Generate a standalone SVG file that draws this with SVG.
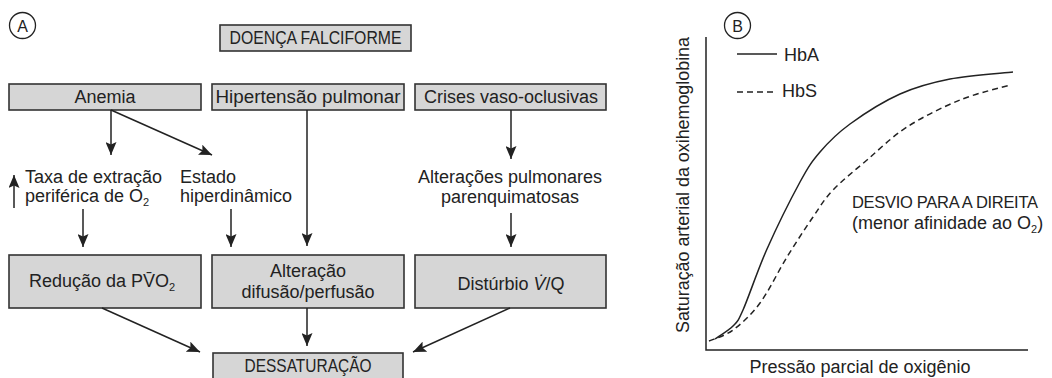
<svg xmlns="http://www.w3.org/2000/svg" width="1052" height="378" viewBox="0 0 1052 378">
<style>
.box{fill:#d6d6d6;stroke:#333;stroke-width:1.6}
.t{font-family:"Liberation Sans",Arial,sans-serif;font-size:18px;fill:#222}
.m{text-anchor:middle}
.sub{font-size:11px}
.conn{stroke:#222;stroke-width:1.5;fill:none;marker-end:url(#ah)}
.circ{fill:none;stroke:#222;stroke-width:1.3}
.axis{stroke:#222;stroke-width:1.5;fill:none}
.curve{stroke:#222;stroke-width:1.5;fill:none}
.dash{stroke-dasharray:6 4}
</style>
<defs>
<marker id="ah" markerUnits="userSpaceOnUse" markerWidth="13" markerHeight="11" refX="13" refY="5.5" orient="auto">
<path d="M0,0 L13,5.5 L0,11 L2.5,5.5 z" fill="#222"/>
</marker>
</defs>
<rect width="1052" height="378" fill="#fff"/>

<g id="labelA">
<circle class="circ" cx="22.5" cy="25.5" r="13"/>
<text class="t m" x="22.5" y="31.5" style="font-size:16px">A</text>
</g>

<g id="doenca">
<rect class="box" x="220" y="25" width="191" height="26"/>
<text class="t m" x="315.5" y="44" textLength="172" lengthAdjust="spacingAndGlyphs">DOENÇA FALCIFORME</text>
</g>

<g id="anemia">
<rect class="box" x="9" y="84" width="192" height="26"/>
<text class="t m" x="105" y="103">Anemia</text>
</g>

<g id="hipertensao">
<rect class="box" x="212" y="84" width="192" height="26"/>
<text class="t m" x="308" y="103" textLength="185" lengthAdjust="spacingAndGlyphs">Hipertensão pulmonar</text>
</g>

<g id="crises">
<rect class="box" x="415" y="84" width="191" height="26"/>
<text class="t m" x="511" y="103">Crises vaso-oclusivas</text>
</g>

<g id="taxa">
<text class="t" x="25" y="183">Taxa de extração</text>
<text class="t" x="25" y="202">periférica de O<tspan class="sub" dy="4">2</tspan></text>
</g>

<g id="estado">
<text class="t" x="180" y="183">Estado</text>
<text class="t" x="180" y="202">hiperdinâmico</text>
</g>

<g id="alteracoes">
<text class="t m" x="510" y="183">Alterações pulmonares</text>
<text class="t m" x="510" y="203">parenquimatosas</text>
</g>

<g id="reducao">
<rect class="box" x="9" y="255" width="192" height="53"/>
<text class="t" x="29" y="287">Redução da PV̄O<tspan class="sub" dy="4">2</tspan></text>
</g>

<g id="alteracao">
<rect class="box" x="212" y="255" width="192" height="53"/>
<text class="t m" x="308" y="277">Alteração</text>
<text class="t m" x="308" y="298">difusão/perfusão</text>
</g>

<g id="disturbio">
<rect class="box" x="415" y="255" width="191" height="53"/>
<text class="t m" x="511" y="290">Distúrbio <tspan font-style="italic">V̇</tspan>/Q</text>
</g>

<g id="dessaturacao">
<rect class="box" x="213" y="353" width="190" height="32"/>
<text class="t m" x="308" y="372" textLength="127" lengthAdjust="spacingAndGlyphs">DESSATURAÇÃO</text>
</g>

<g id="connectors">
<line class="conn" x1="111" y1="110" x2="111" y2="155"/>
<line class="conn" x1="111" y1="110" x2="212" y2="155"/>
<line class="conn" x1="307" y1="110" x2="307" y2="246"/>
<line class="conn" x1="511" y1="110" x2="511" y2="159"/>
<line class="conn" x1="14" y1="208" x2="14" y2="175"/>
<line class="conn" x1="83" y1="209" x2="83" y2="247"/>
<line class="conn" x1="231" y1="209" x2="231" y2="247"/>
<line class="conn" x1="511" y1="213" x2="511" y2="247"/>
<line class="conn" x1="102" y1="308" x2="200" y2="352"/>
<line class="conn" x1="307" y1="308" x2="307" y2="346"/>
<line class="conn" x1="510" y1="308" x2="413" y2="352"/>
</g>

<g id="graph">
<circle class="circ" cx="737.5" cy="25.5" r="13"/>
<text class="t m" x="737.5" y="31.5" style="font-size:16px">B</text>
<path class="axis" d="M706,37 V350 H1028"/>
<text class="t m" transform="translate(689,185) rotate(-90)" x="0" y="0" textLength="296" lengthAdjust="spacingAndGlyphs">Saturação arterial da oxihemoglobina</text>
<text class="t m" x="860" y="373">Pressão parcial de oxigênio</text>
<line class="curve" x1="737" y1="54" x2="777" y2="54"/>
<text class="t" x="784" y="61">HbA</text>
<line class="curve dash" x1="737" y1="92" x2="775" y2="92"/>
<text class="t" x="782" y="97">HbS</text>
<path class="curve" d="M715,339 C718,336.8 728.3,330.8 733,326 C737.7,321.2 737.3,322.8 743,310 C748.7,297.2 757.5,270.3 767,249 C776.5,227.7 791.2,198.2 800,182 C808.8,165.8 811.7,161.7 820,152 C828.3,142.3 836.7,133.7 850,124 C863.3,114.3 883.3,101.5 900,94 C916.7,86.5 931.2,82.7 950,79 C968.8,75.3 1002.5,73.2 1013,72"/>
<path class="curve dash" d="M709,341 C713,339.2 724.5,336.3 733,330 C741.5,323.7 751,315.2 760,303 C769,290.8 778.2,271.3 787,257 C795.8,242.7 805.3,228.2 813,217 C820.7,205.8 824,199.5 833,190 C842,180.5 854.7,170.5 867,160 C879.3,149.5 891.5,137 907,127 C922.5,117 942.8,107 960,100 C977.2,93 1001.7,87.5 1010,85"/>
<text class="t" x="852" y="208" style="font-size:16.5px;letter-spacing:-0.3px">DESVIO PARA A DIREITA</text>
<text class="t" x="852" y="229">(menor afinidade ao O<tspan class="sub" dy="4">2</tspan><tspan dy="-4">)</tspan></text>
</g>
</svg>
